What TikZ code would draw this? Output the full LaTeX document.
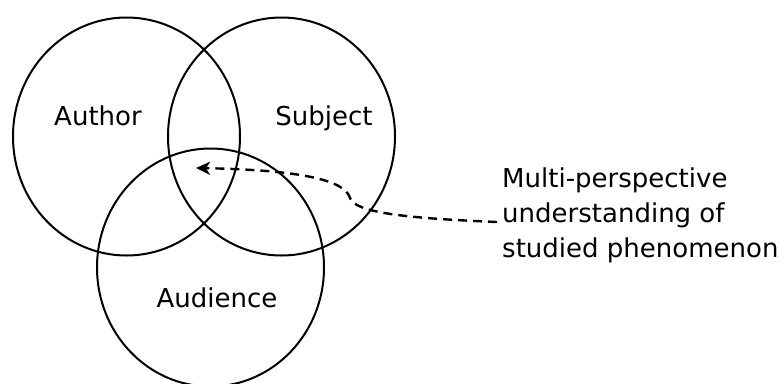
\documentclass[tikz,border=0pt]{standalone}
\usepackage{fontspec}
\setmainfont{DejaVu Sans}
\usetikzlibrary{shapes.geometric,arrows.meta}
\begin{document}
\begin{tikzpicture}[x=1bp,y=-1bp,
  setcircle/.style={ellipse,draw=black,line width=2bp,minimum width=227bp,minimum height=238bp,inner sep=0pt},
  lbl/.style={font=\fontsize{26bp}{35bp}\selectfont,inner sep=0pt},
  connector/.style={draw=black,line width=2.4bp,dash pattern=on 9bp off 6bp,-{Stealth[length=14bp,width=13bp,inset=4bp]}}
]
\clip (0,0) rectangle (784,383);
\node[setcircle] (author) at (126.5,136.5) {};
\node[setcircle] (subject) at (281.5,136.5) {};
\node[setcircle] (audience) at (210.5,267.5) {};
\node[lbl,anchor=base] (tauthor) at (98,125) {Author};
\node[lbl,anchor=base] (tsubject) at (324,125) {Subject};
\node[lbl,anchor=base] (taudience) at (217,307) {Audience};
\node[lbl,anchor=west,align=left] (txt) at (502,215) {Multi-perspective\\understanding of\\studied phenomenon};
\coordinate (s) at (497,222);
\coordinate (k) at (350,198);
\coordinate (t) at (196,168);
\draw[connector] (s) .. controls (400,218) and (355,212) .. (k) .. controls (345,180) and (300,170) .. (t);
\end{tikzpicture}
\end{document}
